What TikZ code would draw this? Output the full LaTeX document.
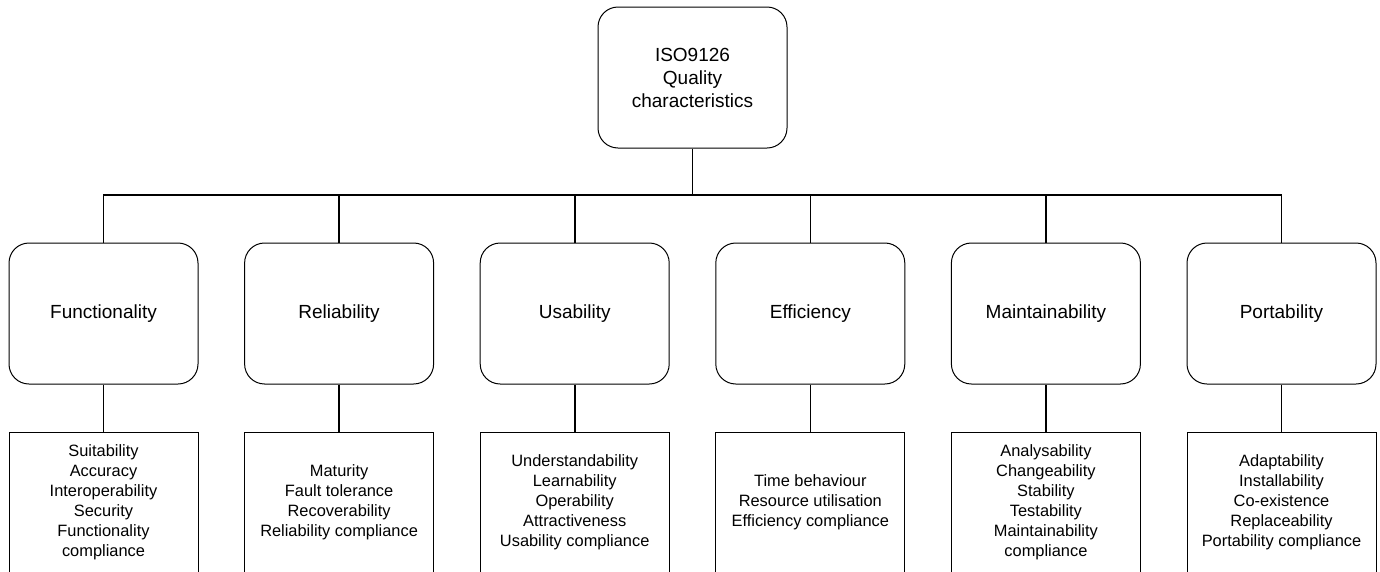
\documentclass[tikz,border=0pt]{standalone}
\usepackage{fontspec}
\setmainfont{Liberation Sans}
\begin{document}
\begin{tikzpicture}[x=1pt,y=-1pt,
 rbox/.style={draw=black, line width=1pt, rounded corners=20pt, minimum width=189pt, minimum height=141pt, align=center, inner sep=0pt, font=\fontsize{19}{23}\selectfont},
 sbox/.style={draw=black, line width=1pt, minimum width=189pt, minimum height=141pt, align=center, inner sep=0pt, font=\fontsize{16.4}{20}\selectfont},
 conn/.style={line width=1.6pt}]
\useasboundingbox (0,0) rectangle (1380,571);
\clip (0,0) rectangle (1380,571);

\node[rbox] (top) at (692.5,77.5) {ISO9126\\Quality\\characteristics};
\coordinate (bus) at (692.5,195);

\node[rbox] (m1) at (103.5,313.5) {Functionality};
\node[rbox] (m2) at (339.1,313.5) {Reliability};
\node[rbox] (m3) at (574.7,313.5) {Usability};
\node[rbox] (m4) at (810.3,313.5) {Efficiency};
\node[rbox] (m5) at (1045.9,313.5) {Maintainability};
\node[rbox] (m6) at (1281.5,313.5) {Portability};

\node[sbox] (b1) at (103.5,502.5) {Suitability\\Accuracy\\Interoperability\\Security\\Functionality\\compliance};
\node[sbox] (b2) at (339.1,502.5) {Maturity\\Fault tolerance\\Recoverability\\Reliability compliance};
\node[sbox] (b3) at (574.7,502.5) {Understandability\\Learnability\\Operability\\Attractiveness\\Usability compliance};
\node[sbox] (b4) at (810.3,502.5) {Time behaviour\\Resource utilisation\\Efficiency compliance};
\node[sbox] (b5) at (1045.9,502.5) {Analysability\\Changeability\\Stability\\Testability\\Maintainability\\compliance};
\node[sbox] (b6) at (1281.5,502.5) {Adaptability\\Installability\\Co-existence\\Replaceability\\Portability compliance};

\draw[conn] (top.south) -- (bus);
\draw[conn] (m1.north) -- (m1.north |- bus) -- (m6.north |- bus) -- (m6.north);
\foreach \i in {2,3,4,5}{
  \draw[conn] (m\i.north) -- (m\i.north |- bus);
}
\foreach \i in {1,...,6}{
  \draw[conn] (m\i.south) -- (b\i.north);
}
\end{tikzpicture}
\end{document}
